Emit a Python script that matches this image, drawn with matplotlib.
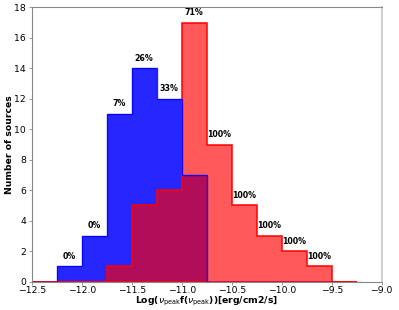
import matplotlib
matplotlib.use("Agg")
import matplotlib.pyplot as plt
import numpy as np

# Data
bin_edges = [-12.5, -12.25, -12.0, -11.75, -11.5, -11.25, -11.0, -10.75,
             -10.5, -10.25, -10.0, -9.75, -9.5, -9.25]
blue_counts = [0, 1, 3, 11, 14, 12, 7, 0, 0, 0, 0, 0, 0]
red_counts = [0, 0, 0, 1, 5, 6, 17, 9, 5, 3, 2, 1, 0]
pct_labels = ["", "0%", "0%", "7%", "26%", "33%", "71%", "100%",
              "100%", "100%", "100%", "100%", ""]

edges = np.array(bin_edges)
centers = (edges[:-1] + edges[1:]) / 2

fig = plt.figure(figsize=(3.99, 3.10), dpi=100)
ax = fig.add_axes([0.0795, 0.0913, 0.877, 0.885])

ax.hist(centers, bins=edges, weights=blue_counts, histtype="stepfilled",
        facecolor="blue", alpha=0.85, edgecolor="none", zorder=1)
ax.hist(centers, bins=edges, weights=red_counts, histtype="stepfilled",
        facecolor=(1, 0, 0, 0.65), edgecolor="red", linewidth=1.1, zorder=2)
ax.hist(centers[:-1], bins=edges[:-1], weights=blue_counts[:-1], histtype="step",
        color="blue", linewidth=1.0, alpha=0.85, zorder=3)

for c, b, r, t in zip(centers, blue_counts, red_counts, pct_labels):
    if t:
        ax.text(c, max(b, r) + 0.67, t, ha="center", va="center",
                fontsize=5.7, fontweight="bold")

ax.set_xlim(-12.5, -9.0)
ax.set_ylim(0, 18)
ax.set_xticks([-12.5, -12.0, -11.5, -11.0, -10.5, -10.0, -9.5, -9.0])
ax.set_yticks(np.arange(0, 19, 2))
ax.tick_params(axis="both", labelsize=6.7, length=2.5, width=0.6,
               color="#888888", pad=1.5)
ax.tick_params(axis="x", pad=0.3)
for s in ax.spines.values():
    s.set_color("#888888")
    s.set_linewidth(0.8)
ax.spines["right"].set_color("#c8c8c8")
ax.spines["right"].set_linewidth(1.2)

ax.set_xlabel(r"Log($\nu_{\rm peak}$f($\nu_{\rm peak}$))[erg/cm2/s]",
              fontsize=6.7, fontweight="bold", labelpad=0.5)
ax.set_ylabel("Number of sources", fontsize=6.7, fontweight="bold",
              labelpad=0)

fig.savefig("out.png", dpi=100)
